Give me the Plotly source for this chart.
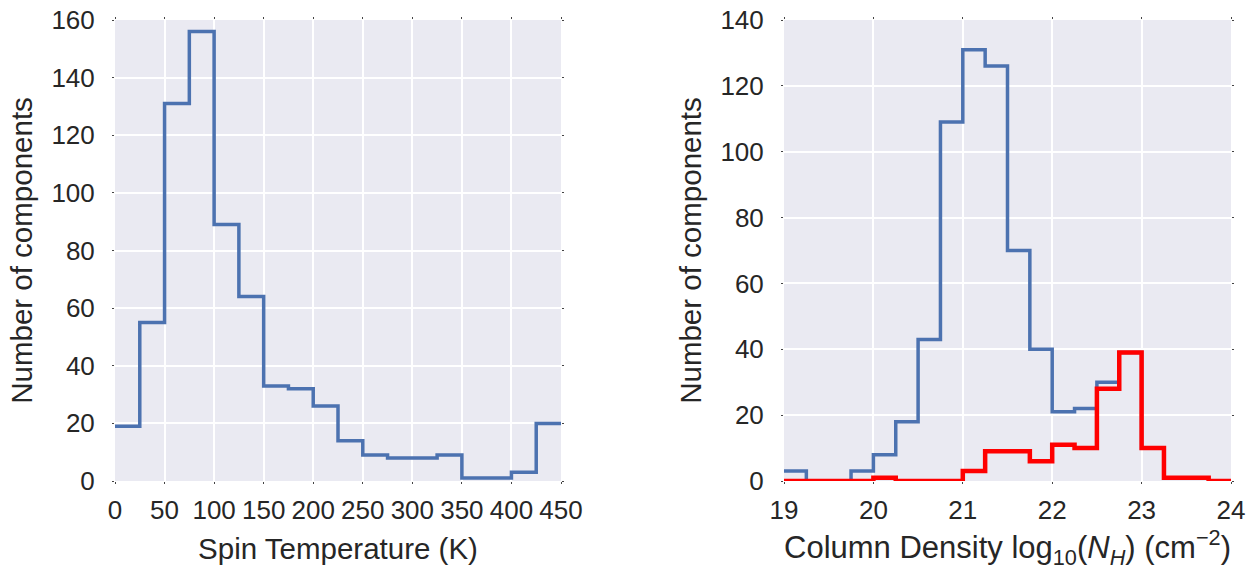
import plotly.graph_objects as go

# Left panel: spin temperature histogram (bin width 25 K)
ts_edges = list(range(0, 451, 25))
ts_counts = [19, 55, 131, 156, 89, 64, 33, 32, 26, 14, 9, 8, 8, 9, 1, 1, 3, 20]

# Right panel: column density histogram (bin width 0.25 dex)
nh_edges = [19 + 0.25 * i for i in range(21)]
nh_all = [3, 0, 0, 3, 8, 18, 43, 109, 131, 126, 70, 40, 21, 22, 30, 39, 10, 1, 1, 0]
nh_red = [0, 0, 0, 0, 1, 0, 0, 0, 3, 9, 9, 6, 11, 10, 28, 39, 10, 1, 1, 0]

left_xticks = list(range(0, 451, 50))
left_yticks = list(range(0, 161, 20))
right_xticks = [19, 20, 21, 22, 23, 24]
right_yticks = list(range(0, 141, 20))

BLUE = "#4C72B0"
RED = "#FF0000"
BG = "#EAEAF2"
FONT = "Liberation Sans, Arial, sans-serif"

W, H = 1258, 574


def step_xy(edges, counts):
    return list(edges), list(counts) + [counts[-1]]


fig = go.Figure()

x, y = step_xy(ts_edges, ts_counts)
fig.add_trace(go.Scatter(x=x, y=y, mode="lines", line=dict(color=BLUE, width=3.5, shape="hv"),
                         xaxis="x", yaxis="y", showlegend=False))

x, y = step_xy(nh_edges, nh_all)
fig.add_trace(go.Scatter(x=x, y=y, mode="lines", line=dict(color=BLUE, width=3.5, shape="hv"),
                         xaxis="x2", yaxis="y2", showlegend=False))
x, y = step_xy(nh_edges, nh_red)
fig.add_trace(go.Scatter(x=x, y=y, mode="lines", line=dict(color=RED, width=4.5, shape="hv"),
                         xaxis="x2", yaxis="y2", showlegend=False))

axis_common = dict(
    showgrid=True, gridcolor="white", gridwidth=2, zeroline=False, showline=False,
    ticks="outside", ticklen=2, tickwidth=1, tickcolor="#444", mirror="ticks",
    automargin=False, ticklabeloverflow="allow",
    tickfont=dict(family=FONT, size=26, color="#262626"),
    title_font=dict(family=FONT, size=29.5, color="#262626"),
)
x_common = dict(axis_common, ticklabelstandoff=4)
y_common = dict(axis_common, ticklabelstandoff=12)


def xd(a, b):
    return [a / W, b / W]


ydom = [(H - 481) / H, (H - 20) / H]

fig.update_layout(
    width=W, height=H,
    margin=dict(l=0, r=0, t=0, b=0),
    paper_bgcolor="white", plot_bgcolor=BG,
    font=dict(family=FONT, color="#262626"),
    xaxis=dict(domain=xd(115, 561), range=[0, 450], tickvals=left_xticks,
               title=dict(text="Spin Temperature (K)", standoff=14), anchor="y", **x_common),
    yaxis=dict(domain=ydom, range=[0, 160], tickvals=left_yticks,
               title=dict(text="Number of components", standoff=10), anchor="x", **y_common),
    xaxis2=dict(domain=xd(784, 1231), range=[19, 24], tickvals=right_xticks,
                title=dict(text="Column Density log<sub>10</sub>(<i>N<sub>H</sub></i>) (cm<sup>\u22122</sup>)",
                           standoff=12, font=dict(family=FONT, size=31, color="#262626")),
                anchor="y2", **{k: v for k, v in x_common.items() if k != "title_font"}),
    yaxis2=dict(domain=ydom, range=[0, 140], tickvals=right_yticks,
                title=dict(text="Number of components", standoff=10), anchor="x2", **y_common),
)

fig.write_html("out.html", config={"displayModeBar": False},
               post_script="document.body.style.margin='0';")
